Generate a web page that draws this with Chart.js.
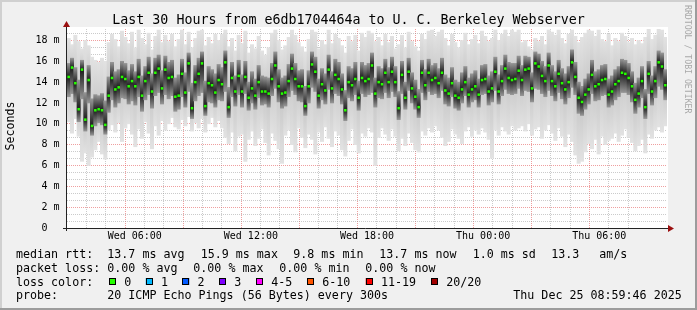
<!DOCTYPE html>
<html><head><meta charset="utf-8">
<script src="https://cdn.jsdelivr.net/npm/chart.js@4.4.1/dist/chart.umd.min.js"></script>
<style>html,body{margin:0;padding:0;background:#f0f0f0;overflow:hidden}canvas{display:block}</style>
</head><body>
<canvas id="c" width="697" height="310"></canvas>
<script>
// ---- DATA (10-minute steps, Wed 03:00 -> Thu 09:00), values in ms ----
const medianRtt = [
14.5,15.4,13.9,11.4,15.2,10.4,14.2,9.8,11.3,11.4,11.3,9.9,12.7,14.4,13.3,13.5,14.5,14.3,13.6,14.1,
13.6,14.5,12.7,14.1,14.9,13.1,14.9,15.3,13.4,15.2,14.4,14.5,12.6,12.7,14.8,13.0,15.8,11.5,14.0,14.8,
15.8,11.7,13.9,13.7,13.0,14.2,
13.8,15.9,11.6,14.4,13.1,14.6,13.1,14.5,12.5,13.4,12.7,14.0,13.1,13.1,12.9,14.3,15.6,13.6,12.9,13.0,
14.1,15.3,14.3,13.6,13.6,11.7,13.6,15.7,15.0,12.7,13.8,13.2,15.2,13.4,14.7,14.3,13.3,11.3,14.0,13.7,
14.3,12.5,14.4,14.1,14.3,
15.6,12.9,14.0,13.8,14.9,14.0,15.0,14.0,11.5,14.7,12.5,15.0,13.4,12.6,11.6,14.9,13.7,14.9,14.2,14.4,
13.9,14.9,13.2,12.9,13.9,12.7,12.5,13.3,14.0,12.8,13.3,13.6,12.8,14.2,14.3,13.1,13.4,15.0,13.1,14.1,
15.3,14.4,14.2,14.3,15.1,
14.2,15.2,15.3,13.4,15.8,15.5,14.6,14.1,15.6,14.1,13.6,14.8,13.9,13.3,14.0,15.9,14.5,12.5,12.1,12.8,
13.3,14.7,13.6,13.8,14.2,14.3,12.8,13.1,13.8,14.1,14.9,14.8,14.4,13.6,12.3,12.9,14.1,11.6,14.8,13.1,
14.1,15.9,15.5,13.7];
const smokeMax = [
18.2,17.6,18.5,17.9,17.2,18.0,17.5,16.4,16.1,15.9,16.3,16.0,17.8,18.6,18.1,17.4,18.9,18.3,17.7,18.8,
17.3,19.0,18.2,17.6,18.7,17.1,18.4,19.0,17.8,18.5,17.9,18.6,17.4,18.1,19.0,17.6,18.8,17.3,18.2,18.9,
19.0,17.5,18.3,17.7,18.6,18.0,
18.6,19.0,17.4,18.2,17.0,18.5,17.7,18.9,16.8,17.6,17.2,18.4,17.0,16.6,17.3,18.7,19.0,18.0,17.1,17.5,
18.3,19.0,18.5,17.8,17.4,16.9,18.1,19.0,18.8,17.2,18.0,17.6,19.0,17.7,18.6,18.2,17.5,16.8,18.4,17.9,
18.5,17.0,18.7,18.3,18.9,
18.7,17.9,18.3,17.5,18.6,17.8,18.4,17.2,17.6,18.5,17.3,18.8,17.9,17.4,17.0,18.6,18.1,18.9,19.0,18.4,
18.8,19.0,18.2,17.5,18.6,17.8,17.3,18.0,18.7,17.6,18.1,18.5,17.7,18.9,18.4,17.9,18.2,19.0,18.0,18.6,
19.0,18.4,19.0,18.8,19.0,
17.8,18.0,17.4,17.1,18.2,17.9,18.4,17.6,19.0,18.8,18.5,19.0,18.2,17.7,18.6,19.0,18.4,17.8,18.3,18.7,
19.0,18.9,18.4,19.0,18.1,17.9,18.6,17.5,18.2,17.9,18.7,18.4,17.8,18.2,17.6,18.0,17.7,18.3,19.2,18.1,
18.5,19.2,19.0,18.3];
const smokeMin = [
10.2,9.1,10.5,8.8,6.4,7.2,6.0,6.8,7.5,8.3,7.1,6.6,9.4,9.9,9.2,10.1,8.3,9.6,10.0,9.0,
7.8,9.5,8.6,10.2,9.1,7.6,9.8,8.9,10.3,9.4,10.0,10.6,9.7,9.5,10.4,9.8,10.7,9.3,10.1,9.6,
10.5,9.2,10.0,10.6,9.7,10.3,
9.6,8.7,8.1,9.2,7.4,8.8,9.0,6.4,8.5,9.3,7.9,8.6,9.5,8.2,7.0,9.1,8.4,7.6,6.2,8.9,
9.4,8.0,7.3,9.6,8.7,7.7,9.0,8.5,7.1,9.2,8.3,9.7,8.6,7.8,9.3,8.9,7.5,6.9,8.4,9.5,
8.0,7.2,9.1,8.8,9.6,
9.2,6.0,8.7,9.6,9.0,8.4,9.5,8.8,7.4,8.6,7.9,9.1,8.2,7.5,7.3,9.3,8.9,9.6,9.2,9.8,
9.4,8.7,7.9,8.3,9.5,9.0,8.6,8.1,9.3,9.7,8.8,9.4,9.0,9.6,9.2,8.5,6.7,9.4,8.9,9.7,
9.3,9.0,9.8,9.4,9.6,
9.8,9.3,10.0,8.9,9.5,9.7,8.6,9.4,9.9,9.1,8.4,9.6,8.8,7.8,9.0,8.3,7.0,6.2,6.4,7.3,
8.1,7.6,8.5,7.1,8.8,8.0,8.4,8.6,9.1,8.3,8.9,9.5,8.7,8.2,7.4,7.9,8.5,7.2,9.0,8.6,
9.4,9.7,9.2,9.8];
const smokeLow = [
12.6,12.9,12.1,10.2,12.4,9.3,12.0,8.9,9.8,10.1,9.9,9.0,11.1,12.3,11.6,12.0,12.5,12.4,11.9,12.2,
11.8,12.6,11.2,12.3,12.8,11.5,12.7,13.0,11.9,12.8,12.4,12.7,11.2,11.4,12.6,11.6,13.1,10.5,12.2,12.7,
13.0,10.8,12.1,12.0,11.6,12.3,
12.2,13.1,10.6,12.6,11.7,12.8,11.6,12.9,11.3,12.0,11.4,12.5,11.8,11.9,11.6,12.7,13.4,12.1,11.5,11.7,
12.6,13.2,12.8,12.2,12.1,10.8,12.0,13.5,13.1,11.5,12.3,11.9,13.3,12.0,12.9,12.7,11.9,10.3,12.5,12.2,
12.8,11.3,12.9,12.6,12.8,
13.0,11.6,12.5,12.4,13.0,12.5,13.1,12.6,10.4,12.9,11.4,13.2,12.0,11.4,10.6,13.0,12.3,13.1,12.8,12.9,
12.5,13.2,11.9,11.7,12.6,11.5,11.3,12.0,12.7,11.6,12.1,12.3,11.6,12.8,12.9,11.8,12.1,13.2,11.9,12.7,
13.3,12.9,12.8,12.9,13.4,
12.7,13.2,13.1,12.1,13.4,13.3,12.9,12.6,13.2,12.7,12.2,13.0,12.4,11.9,12.5,13.5,12.8,11.0,10.8,11.4,
11.9,12.9,12.2,12.3,12.7,12.8,11.6,11.8,12.3,12.6,13.0,13.0,12.8,12.1,11.0,11.6,12.5,10.5,12.9,11.8,
12.5,13.6,13.3,12.3];
const smokeHigh = [
15.8,16.3,15.4,14.2,16.1,13.0,15.6,12.4,12.8,12.7,12.9,12.2,14.5,15.9,15.0,15.2,16.0,15.8,15.1,15.7,
15.0,16.2,14.6,15.5,16.4,14.8,16.3,16.6,15.1,16.5,15.9,16.1,14.4,14.7,16.2,14.9,16.8,13.9,15.6,16.3,
16.9,14.1,15.5,15.2,14.8,15.7,
15.4,17.0,13.5,15.9,14.6,16.1,14.7,16.0,14.0,15.0,14.3,15.6,14.6,14.5,14.4,15.8,16.9,15.2,14.4,14.6,
15.7,16.7,15.8,15.1,15.2,13.6,15.1,16.9,16.4,14.3,15.3,14.8,16.6,15.0,16.2,15.9,14.8,13.2,15.5,15.3,
15.9,14.1,15.9,15.6,15.8,
16.8,14.4,15.5,15.3,16.2,15.4,16.4,15.5,13.1,16.0,14.0,16.3,14.9,14.2,13.3,16.1,15.2,16.2,15.6,15.8,
15.3,16.3,14.7,14.4,15.4,14.2,14.0,14.9,15.5,14.4,14.8,15.1,14.3,15.6,15.7,14.6,15.0,16.4,14.7,15.6,
16.6,15.9,15.8,15.8,16.5,
15.6,16.5,16.4,14.9,16.9,16.7,16.0,15.5,16.8,15.6,15.0,16.1,15.3,14.8,15.5,17.1,15.9,14.0,13.6,14.3,
14.8,16.1,15.0,15.2,15.6,15.7,14.3,14.6,15.2,15.5,16.2,16.1,15.8,15.0,13.9,14.4,15.5,13.3,16.0,14.6,
15.5,17.0,16.8,15.2];

// tick labels
const xTickHours  = [3, 9, 15, 21, 27];
const xTickLabels = ['Wed 06:00','Wed 12:00','Wed 18:00','Thu 00:00','Thu 06:00'];
const yTickValues = [0, 2, 4, 6, 8, 10, 12, 14, 16, 18];
const yTickLabels = ['0  ','2 m','4 m','6 m','8 m','10 m','12 m','14 m','16 m','18 m'];

// legend content
const titleText = 'Last 30 Hours from e6db1704464a to U. C. Berkeley Webserver';
const rttStatValues = [13.7, 15.9, 9.8, 13.7];
const rttStatNames  = ['avg','max','min','now'];
const rttSd = 1.0, rttAms = 13.3;
const lossStatValues = [0.00, 0.00, 0.00, 0.00];
const lossStatNames  = ['avg','max','min','now'];
const lossLabels = ['0','1','2','3','4-5','6-10','11-19','20/20'];
const lossColors = ['#26ff00','#00b8ff','#0059ff','#7e00ff','#ff00ff','#ff5500','#ff0000','#a10000'];
const probeText = '20 ICMP Echo Pings (56 Bytes) every 300s';
const stampText = 'Thu Dec 25 08:59:46 2025';

// ---- rendering ----
const MONO = "'DejaVu Sans Mono','Liberation Mono',monospace";
const labels = medianRtt.map((_, i) => i);

function smokeFill(lowArr, highArr, edge, core) {
  return (ctx) => {
    if (ctx.type !== 'data') return edge;
    const ch = ctx.chart, ys = ch.scales.y;
    if (!ys) return edge;
    const i = ctx.dataIndex;
    const t = ys.getPixelForValue(highArr[i]), b = ys.getPixelForValue(lowArr[i]);
    const m = ys.getPixelForValue(medianRtt[i]);
    if (!(b - t > 0.5)) return core;
    let f = (m - t) / (b - t); f = Math.min(0.95, Math.max(0.05, f));
    const g = ch.ctx.createLinearGradient(0, t, 0, b);
    g.addColorStop(0, edge); g.addColorStop(f, core); g.addColorStop(1, edge);
    return g;
  };
}

const frame = {
  id: 'frame',
  beforeDraw(chart) {
    const c = chart.ctx, a = chart.chartArea;
    c.save();
    c.fillStyle = '#f0f0f0'; c.fillRect(0, 0, 697, 310);
    c.fillStyle = '#d0d0d0'; c.fillRect(0, 0, 697, 2); c.fillRect(0, 0, 2, 310);
    c.fillStyle = '#9c9c9c'; c.fillRect(0, 308, 697, 2); c.fillRect(695, 0, 2, 310);
    c.fillStyle = '#ffffff'; c.fillRect(a.left, a.top - 2, a.right - a.left + 1, a.bottom - a.top + 2);
    c.restore();
  },
  afterDraw(chart) {
    const c = chart.ctx, a = chart.chartArea;
    c.save();
    // axes
    c.strokeStyle = '#222'; c.lineWidth = 1;
    c.beginPath(); c.moveTo(a.left - 4, a.bottom + 0.5); c.lineTo(a.right + 1, a.bottom + 0.5); c.stroke();
    c.beginPath(); c.moveTo(a.left - 0.5, a.bottom + 3); c.lineTo(a.left - 0.5, a.top - 3); c.stroke();
    c.fillStyle = '#9b1010';
    c.beginPath(); c.moveTo(a.right + 1, a.bottom - 3); c.lineTo(a.right + 7, a.bottom + 0.5); c.lineTo(a.right + 1, a.bottom + 4); c.closePath(); c.fill();
    c.beginPath(); c.moveTo(a.left - 4, a.top - 2); c.lineTo(a.left - 0.5, a.top - 8); c.lineTo(a.left + 3, a.top - 2); c.closePath(); c.fill();
    // title
    c.fillStyle = '#000';
    c.font = '13.3px ' + MONO; c.textAlign = 'center'; c.textBaseline = 'alphabetic';
    c.fillText(titleText, 348.5, 24);
    // y title
    c.save(); c.translate(14, 126); c.rotate(-Math.PI / 2);
    c.font = '11.6px ' + MONO; c.fillText('Seconds', 0, 0); c.restore();
    // watermark
    c.save(); c.translate(685, 5); c.rotate(Math.PI / 2);
    c.font = '8.2px ' + MONO; c.fillStyle = '#a8a8a8'; c.textAlign = 'left';
    c.fillText('RRDTOOL / TOBI OETIKER', 0, 0); c.restore();
    // legend
    c.font = '11.66px ' + MONO; c.textAlign = 'left'; c.fillStyle = '#000';
    const rows = [258, 271.7, 285.5, 299.2];
    c.fillText('median rtt:', 16, rows[0]);
    const rttX = [107.3, 200.7, 293.3, 379.3];
    rttStatValues.forEach((v, i) => c.fillText(v.toFixed(1) + ' ms ' + rttStatNames[i], rttX[i], rows[0]));
    c.fillText(rttSd.toFixed(1) + ' ms sd', 472.7, rows[0]);
    c.fillText(rttAms.toFixed(1), 551.3, rows[0]);
    c.fillText('am/s', 599.3, rows[0]);
    c.fillText('packet loss:', 16, rows[1]);
    const lossX = [107.3, 193.3, 279.3, 365.3];
    lossStatValues.forEach((v, i) => c.fillText(v.toFixed(2) + ' % ' + lossStatNames[i], lossX[i], rows[1]));
    c.fillText('loss color:', 16, rows[2]);
    const boxX = [109, 145.7, 182.3, 219, 256, 307, 365.7, 431];
    lossLabels.forEach((l, i) => {
      c.fillStyle = lossColors[i]; c.fillRect(boxX[i], rows[2] - 7.5, 7, 7);
      c.strokeStyle = '#000'; c.lineWidth = 1; c.strokeRect(Math.round(boxX[i]) + 0.5, Math.round(rows[2] - 7.5) + 0.5, 6, 6);
      c.fillStyle = '#000'; c.fillText(l, boxX[i] + 15.3, rows[2]);
    });
    c.fillText('probe:', 16, rows[3]);
    c.fillText(probeText, 107.3, rows[3]);
    c.fillText(stampText, 513.3, rows[3]);
    c.restore();
  }
};

function yGridColor(ctx) {
  const v = ctx.tick ? ctx.tick.value : 0;
  if (v < 0.01) return 'rgba(0,0,0,0)';
  const r = v / 2;
  return Math.abs(r - Math.round(r)) < 1e-6 ? 'rgba(225,80,80,0.55)' : 'rgba(140,140,140,0.45)';
}
function xGridColor(ctx) {
  const v = ctx.tick ? ctx.tick.value : 0;
  if (v < 0.01 || v > 29.99) return 'rgba(0,0,0,0)';
  return (Math.round(v) % 3 === 0) ? 'rgba(225,80,80,0.55)' : 'rgba(140,140,140,0.45)';
}

new Chart(document.getElementById('c'), {
  type: 'bar',
  data: {
    labels,
    datasets: [
      { type: 'line', label: 'median', data: medianRtt, showLine: false, pointStyle: 'rect',
        pointRadius: 1.8, pointBorderWidth: 0, pointBackgroundColor: lossColors[0], pointBorderColor: lossColors[0], order: 0 },
      { label: 'inner', data: smokeLow.map((v, i) => [v, smokeHigh[i]]), grouped: false,
        backgroundColor: smokeFill(smokeLow, smokeHigh, '#959595', '#1c1c1c'),
        borderWidth: 0, barPercentage: 1, categoryPercentage: 1, order: 1 },
      { label: 'outer', data: smokeMin.map((v, i) => [v, smokeMax[i]]), grouped: false,
        backgroundColor: smokeFill(smokeMin, smokeMax, '#e2e2e2', '#c6c6c6'),
        borderWidth: 0, barPercentage: 1, categoryPercentage: 1, order: 2 }
    ]
  },
  options: {
    responsive: false, animation: false, devicePixelRatio: 1,
    layout: { padding: { left: 0, right: 30, top: 29, bottom: 62 } },
    plugins: { legend: { display: false }, tooltip: { enabled: false }, title: { display: false } },
    scales: {
      x: { type: 'category', display: false, offset: true, grid: { display: false } },
      xt: {
        type: 'linear', position: 'bottom', min: 0, max: 30, z: 1,
        afterFit(s) { s.height = 20; },
        afterBuildTicks(s) { const t = []; for (let h = 0; h <= 30; h++) t.push({ value: h }); s.ticks = t; },
        grid: { drawTicks: false, color: xGridColor, lineWidth: 1 },
        border: { display: false, dash: [1, 1] },
        ticks: { padding: 2, autoSkip: false, maxRotation: 0, minRotation: 0, color: '#000',
          font: { family: MONO, size: 10 },
          callback(v) { const k = xTickHours.indexOf(Math.round(v)); return k >= 0 && Math.abs(v - Math.round(v)) < 1e-6 ? xTickLabels[k] : ''; } }
      },
      y: {
        type: 'linear', position: 'left', min: 0, max: 19.1, z: 1,
        afterFit(s) { s.width = 67; },
        afterBuildTicks(s) { const t = []; for (let i = 0; i * 2 / 3 <= 19.1; i++) t.push({ value: i * 2 / 3 }); s.ticks = t; },
        grid: { drawTicks: false, color: yGridColor, lineWidth: 1 },
        border: { display: false, dash: [1, 1] },
        ticks: { padding: 7.5, autoSkip: false, color: '#000', font: { family: MONO, size: 10 },
          callback(v) { const k = yTickValues.findIndex(t => Math.abs(t - v) < 1e-6); return k >= 0 ? yTickLabels[k] : ''; } }
      }
    }
  },
  plugins: [frame]
});
</script>
</body></html>
